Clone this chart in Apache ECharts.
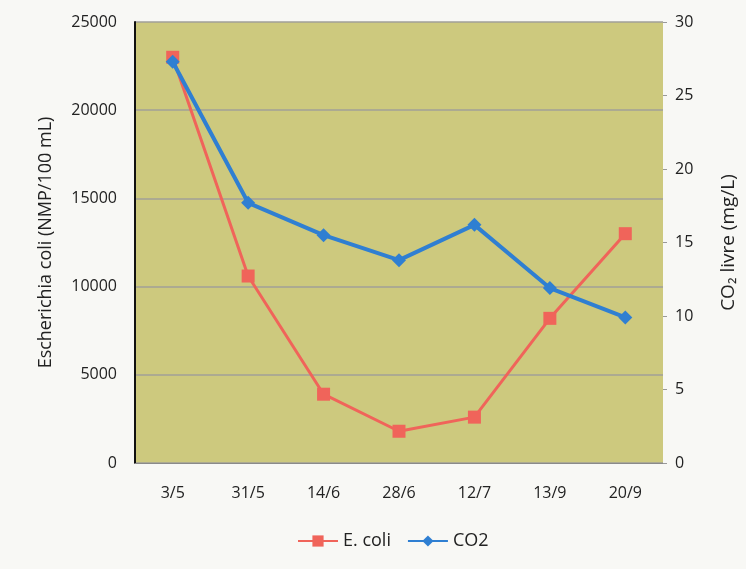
<!DOCTYPE html>
<html>
<head>
<meta charset="utf-8">
<script src="https://cdn.jsdelivr.net/npm/echarts@6/dist/echarts.min.js"></script>
<style>
html,body{margin:0;padding:0;background:#f8f8f5;}
#c{width:746px;height:569px;}
</style>
</head>
<body>
<div id="c"></div>
<script>
const categories = ['3/5', '31/5', '14/6', '28/6', '12/7', '13/9', '20/9'];
const ecoli = [23000, 10600, 3900, 1800, 2600, 8200, 13000];
const co2 = [27.3, 17.7, 15.5, 13.8, 16.2, 11.9, 9.9];
const leftTicks = [0, 25000, 5000];
const rightTicks = [0, 30, 5];

const chart = echarts.init(document.getElementById('c'));
const font = '"Open Sans", sans-serif';
chart.setOption({
  backgroundColor: '#f8f8f5',
  textStyle: { fontFamily: font },
  grid: { left: 135, right: 81, top: 22, bottom: 106, show: true, backgroundColor: '#cdc97e', borderWidth: 0 },
  legend: {
    bottom: 14,
    left: 292,
    itemWidth: 40,
    itemHeight: 14,
    itemGap: 16,
    textStyle: { fontSize: 18, color: '#222', fontFamily: font },
    data: ['E. coli', 'CO2']
  },
  xAxis: {
    type: 'category',
    data: categories,
    boundaryGap: true,
    axisLine: { lineStyle: { color: '#8a8a8a', width: 1 } },
    axisTick: { show: false },
    axisLabel: { fontSize: 16, color: '#222', margin: 22, fontFamily: font }
  },
  yAxis: [
    {
      type: 'value', min: leftTicks[0], max: leftTicks[1], interval: leftTicks[2],
      name: 'Escherichia coli (NMP/100 mL)',
      nameLocation: 'middle', nameGap: 80, nameRotate: 90,
      nameTextStyle: { fontSize: 18, color: '#222', fontFamily: font },
      axisLine: { show: true, lineStyle: { color: '#111', width: 2 } },
      axisTick: { show: false },
      axisLabel: { fontSize: 16, color: '#222', margin: 18, fontFamily: font, formatter: v => String(v) },
      splitLine: { lineStyle: { color: '#a09f98', width: 1.5 } }
    },
    {
      type: 'value', min: rightTicks[0], max: rightTicks[1], interval: rightTicks[2],
      name: 'CO₂ livre (mg/L)',
      nameLocation: 'middle', nameGap: 56, nameRotate: 90,
      nameTextStyle: { fontSize: 19, color: '#222', fontFamily: font },
      axisLine: { show: false },
      axisTick: { show: true, length: 4, inside: false, lineStyle: { color: '#999' } },
      axisLabel: { fontSize: 16, color: '#222', margin: 12, fontFamily: font },
      splitLine: { show: false }
    }
  ],
  series: [
    {
      name: 'E. coli', type: 'line', data: ecoli, yAxisIndex: 0,
      symbol: 'rect', symbolSize: 13,
      lineStyle: { color: '#f0645a', width: 3 },
      itemStyle: { color: '#f0645a' }
    },
    {
      name: 'CO2', type: 'line', data: co2, yAxisIndex: 1,
      symbol: 'diamond', symbolSize: 14,
      lineStyle: { color: '#2f7fd2', width: 4 },
      itemStyle: { color: '#2f7fd2' }
    }
  ]
});
</script>
</body>
</html>
